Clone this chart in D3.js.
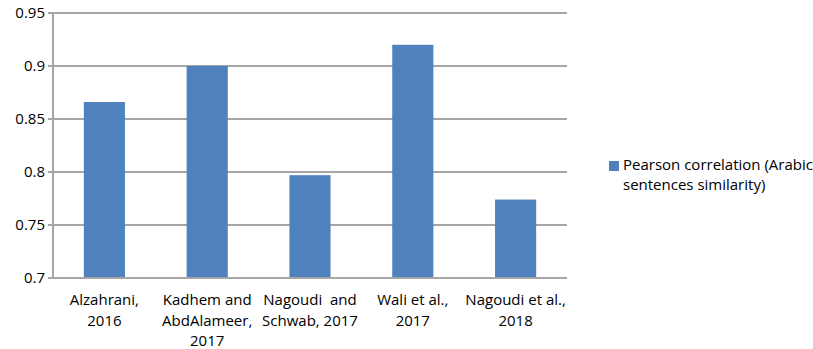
<!DOCTYPE html>
<html>
<head>
<meta charset="utf-8">
<script src="https://cdn.jsdelivr.net/npm/d3@7"></script>
<style>
body { margin: 0; background: #fff; }
text { font-family: "Open Sans", sans-serif; fill: #000; }
</style>
</head>
<body>
<div class="holder"></div>
<script>
var categories = ['Alzahrani, 2016', 'Kadhem and AbdAlameer, 2017', 'Nagoudi  and Schwab, 2017', 'Wali et al., 2017', 'Nagoudi et al., 2018']
var labelLines = [
  ['Alzahrani,', '2016'],
  ['Kadhem and', 'AbdAlameer,', '2017'],
  ['Nagoudi  and', 'Schwab, 2017'],
  ['Wali et al.,', '2017'],
  ['Nagoudi et al.,', '2018']
]
var values = [0.866, 0.900, 0.797, 0.920, 0.774]
var yTicks = [0.7, 0.75, 0.8, 0.85, 0.9, 0.95]
var seriesName = ['Pearson correlation (Arabic', 'sentences similarity)']

var width = 813, height = 349
var mLeft = 53, mRight = 567, mTop = 13, mBottom = 278
var barColor = '#4f81bd', gridColor = '#a6a6a6'

var svg = d3.select('.holder').append('svg')
  .attr('width', width)
  .attr('height', height)

var xScale = d3.scaleBand()
  .domain(categories)
  .range([mLeft, mRight])
  .padding(0)

var yScale = d3.scaleLinear()
  .domain([0.7, 0.95])
  .range([mBottom, mTop])

// gridlines
svg.append('g')
  .selectAll('line')
  .data(yTicks)
  .enter()
  .append('line')
  .attr('x1', mLeft - 5)
  .attr('x2', mRight)
  .attr('y1', function(d) { return yScale(d) })
  .attr('y2', function(d) { return yScale(d) })
  .attr('stroke', gridColor)
  .attr('stroke-width', 2)

// y axis line
svg.append('line')
  .attr('x1', mLeft).attr('x2', mLeft)
  .attr('y1', mTop).attr('y2', mBottom)
  .attr('stroke', gridColor)
  .attr('stroke-width', 2)

var yAxis = d3.axisLeft(yScale)
  .tickValues(yTicks)
  .tickSize(0)
  .tickPadding(8)
  .tickFormat(function(d) { return String(d) })

var yG = svg.append('g')
  .attr('transform', 'translate(' + mLeft + ',0)')
  .call(yAxis)
yG.select('.domain').remove()
yG.selectAll('text')
  .style('font-size', '15px')
  .style('font-family', '"Open Sans", sans-serif')
  .attr('fill', '#000')

// bars
var barW = xScale.bandwidth() * 0.4
svg.selectAll('.bar')
  .data(values)
  .enter()
  .append('rect')
  .attr('class', 'bar')
  .attr('x', function(d, i) { return xScale(categories[i]) + (xScale.bandwidth() - barW) / 2 })
  .attr('y', function(d) { return yScale(d) })
  .attr('width', barW)
  .attr('height', function(d) { return mBottom - yScale(d) })
  .attr('fill', barColor)

// x axis line over the bars
svg.append('line')
  .attr('x1', mLeft - 5).attr('x2', mRight)
  .attr('y1', mBottom).attr('y2', mBottom)
  .attr('stroke', gridColor)
  .attr('stroke-width', 2)

// category labels
var xl = svg.append('g')
  .selectAll('text')
  .data(categories)
  .enter()
  .append('text')
  .attr('text-anchor', 'middle')
  .attr('x', function(d) { return xScale(d) + xScale.bandwidth() / 2 })
  .attr('y', 305)
  .style('font-size', '15px')
  .style('white-space', 'pre')
xl.each(function(d, i) {
  var t = d3.select(this)
  labelLines[i].forEach(function(line, j) {
    t.append('tspan')
      .attr('x', xScale(d) + xScale.bandwidth() / 2)
      .attr('dy', j === 0 ? 0 : 20.5)
      .text(line)
  })
})

// legend
svg.append('rect')
  .attr('x', 609).attr('y', 161)
  .attr('width', 10).attr('height', 10)
  .attr('fill', barColor)

var lg = svg.append('text')
  .attr('x', 623).attr('y', 170)
  .style('font-size', '15px')
seriesName.forEach(function(line, j) {
  lg.append('tspan')
    .attr('x', 623)
    .attr('dy', j === 0 ? 0 : 20)
    .text(line)
})
</script>
</body>
</html>
